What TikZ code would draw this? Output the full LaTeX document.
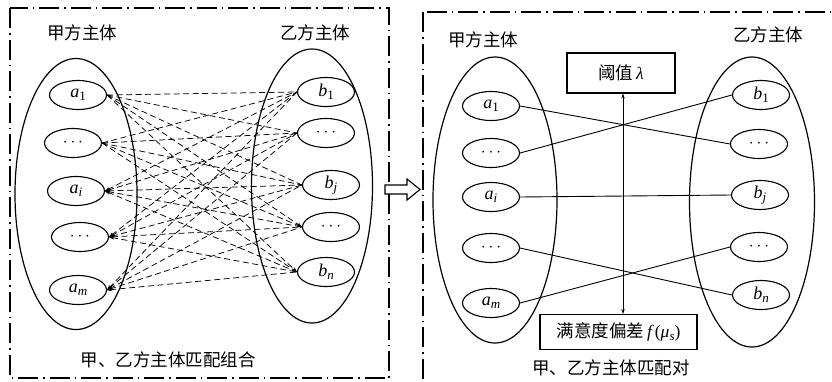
\documentclass[tikz,border=0pt]{standalone}
\usepackage{fontspec}
\setmainfont{Liberation Serif}
\newfontfamily\cjk{Noto Sans CJK SC}
\usetikzlibrary{shapes.geometric,arrows.meta}
\newcommand\sbs[1]{\raisebox{-0.4ex}{\fontsize{13}{14}\selectfont #1}}
\begin{document}
\begin{tikzpicture}[x=1pt,y=-1pt,
  big/.style={draw,line width=1.2pt,ellipse,inner sep=0pt},
  sm/.style={draw,line width=1.1pt,ellipse,minimum width=57pt,minimum height=29pt,inner sep=0pt,font=\fontsize{18}{20}\selectfont},
  lab/.style={font=\cjk\fontsize{17.5}{20}\selectfont,inner sep=0pt},
  dl/.style={dash pattern=on 6pt off 3.5pt,line width=0.75pt},
  sl/.style={line width=0.9pt},
  tip/.tip={Stealth[length=5pt,width=3.5pt]},
  frm/.style={line width=1.1pt,dash pattern=on 20pt off 5pt on 1.5pt off 5pt},
  boxs/.style={draw,line width=1.1pt,inner sep=0pt,font=\cjk\fontsize{17.5}{20}\selectfont}]
\useasboundingbox (0,0) rectangle (832,381);
\begin{scope}
\clip (0,0) rectangle (832,381);
% frames
\draw[frm] (10,8) rectangle (389,378);
\draw[frm] (423,12) rectangle (850,400);
% ---------- left panel ----------
\node[lab] (hA) at (82,33) {甲方主体};
\node[lab] (hB) at (315,33) {乙方主体};
\node[big,minimum width=122pt,minimum height=271pt] (EA) at (76,194) {};
\node[big,minimum width=121pt,minimum height=274pt] (EB) at (312,186) {};
\node[sm] (A1) at (78,95) {\textit{a}\sbs{1}};
\node[sm] (A2) at (73,143) {$\cdots$};
\node[sm] (A3) at (76,191) {\textit{a}\sbs{\textit{i}}};
\node[sm] (A4) at (80,237) {$\cdots$};
\node[sm] (A5) at (78,290) {\textit{a}\sbs{\textit{m}}};
\node[sm] (B1) at (326,92) {\textit{b}\sbs{1}};
\node[sm] (B2) at (326,133) {$\cdots$};
\node[sm] (B3) at (331,185) {\textit{b}\sbs{\textit{j}}};
\node[sm] (B4) at (331,227) {$\cdots$};
\node[sm] (B5) at (326,272) {\textit{b}\sbs{\textit{n}}};
\foreach \i in {1,...,5}{
  \foreach \j in {1,...,5}{
    \ifnum\i>2
      \draw[dl,tip-] (A\i.east) -- (B\j.west);
    \else
      \ifnum\j>3
        \draw[dl,-tip] (A\i.east) -- (B\j.west);
      \else
        \draw[dl] (A\i.east) -- (B\j.west);
      \fi
    \fi
  }
}
\node[lab] (capL) at (168,360) {甲、乙方主体匹配组合};
% ---------- block arrow ----------
\draw[line width=1.1pt,fill=white] (385,185) -- (407,185) -- (407,179) -- (420,189.5) -- (407,200) -- (407,194) -- (385,194) -- cycle;
% ---------- right panel ----------
\node[lab] (hC) at (483,40) {甲方主体};
\node[lab] (hD) at (768,35) {乙方主体};
\node[big,minimum width=124pt,minimum height=286pt] (EC) at (495,200) {};
\node[big,minimum width=125pt,minimum height=290pt] (ED) at (752,202) {};
\node[sm] (C1) at (491,106) {\textit{a}\sbs{1}};
\node[sm] (C2) at (491,153) {$\cdots$};
\node[sm] (C3) at (491,197) {\textit{a}\sbs{\textit{i}}};
\node[sm] (C4) at (491,248) {$\cdots$};
\node[sm] (C5) at (491,303) {\textit{a}\sbs{\textit{m}}};
\node[sm] (D1) at (761,95) {\textit{b}\sbs{1}};
\node[sm] (D2) at (759,144) {$\cdots$};
\node[sm] (D3) at (760,195) {\textit{b}\sbs{\textit{j}}};
\node[sm] (D4) at (759,247) {$\cdots$};
\node[sm] (D5) at (761,295) {\textit{b}\sbs{\textit{n}}};
\draw[sl] (C1.east) -- (D2.west);
\draw[sl] (C2.east) -- (D1.west);
\draw[sl] (C3.east) -- (D3.west);
\draw[sl] (C4.east) -- (D5.west);
\draw[sl] (C5.east) -- (D4.west);
\node[boxs,minimum width=108pt,minimum height=40pt] (T) at (621,73) {阈值\,{\rmfamily\itshape λ}};
\node[boxs,minimum width=157pt,minimum height=35pt] (S) at (618.5,332) {满意度偏差\,{\rmfamily\textit{f}\kern1pt(\textit{μ}\sbs{\textit{s}})}};
\coordinate (ax) at (623,0);
\draw[sl,tip-tip] (T.south -| ax) -- (S.north -| ax);
\node[lab] (capR) at (611,368) {甲、乙方主体匹配对};
\end{scope}
\end{tikzpicture}
\end{document}
